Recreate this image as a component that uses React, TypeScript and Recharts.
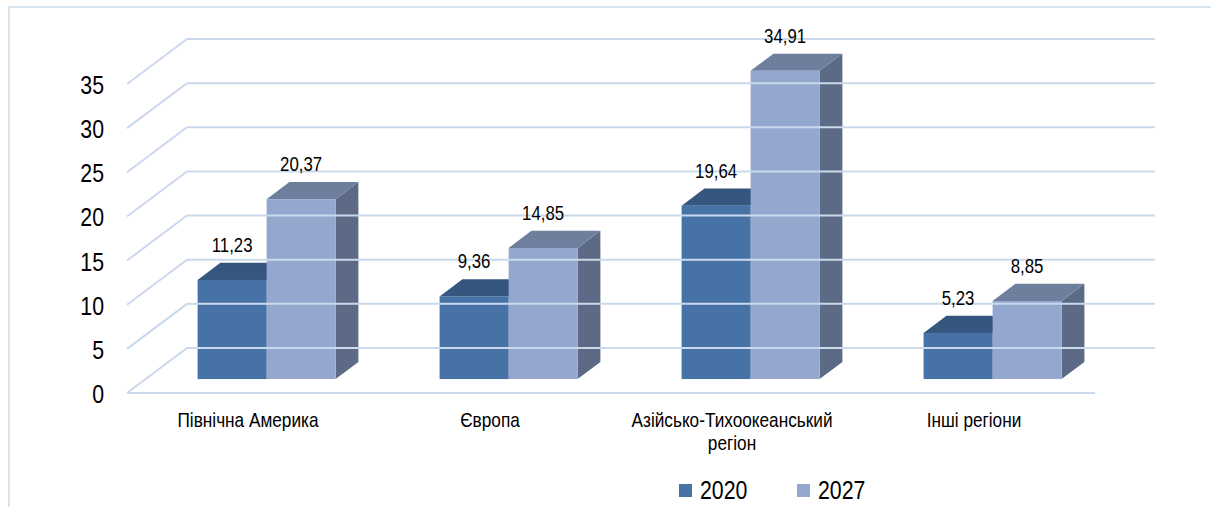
import React from 'react';
import { BarChart, Bar, XAxis, YAxis, ReferenceLine, LabelList } from 'recharts';

const categories = ['Північна Америка', 'Європа', 'Азійсько-Тихоокеанський регіон', 'Інші регіони'];
const values2020 = [11.23, 9.36, 19.64, 5.23];
const values2027 = [20.37, 14.85, 34.91, 8.85];
const yTicks = [0, 5, 10, 15, 20, 25, 30, 35];
const seriesNames = ['2020', '2027'];

const data = categories.map((c, i) => ({ region: c, y2020: values2020[i], y2027: values2027[i] }));

const FONT = "'Liberation Sans',Arial,sans-serif";
const NARROW = 0.82;
const W = 1211;
const H = 507;
const PLOT_LEFT = 127;
const PLOT_RIGHT = 1095;
const PLOT_TOP = 84;
const PLOT_BOTTOM = 393;
const DEPTH_X = 60;
const DEPTH_Y = 45;
const FRONT_F = 0.31;
const BACK_F = 0.69;
const GRID = '#CAD9EC';

const COLORS = {
  a: { front: '#4672A6', top: '#35567F', side: '#2E4B70' },
  b: { front: '#94A8CF', top: '#6E7F9D', side: '#5C6A85' },
};

const NText = ({ x, y, size, anchor, children }: any) => (
  <text
    transform={`translate(${x},${y}) scale(${NARROW},1)`}
    x={0}
    y={0}
    textAnchor={anchor || 'start'}
    fontSize={size}
    fontFamily={FONT}
    fill="#000"
  >
    {children}
  </text>
);

const makeBarShape = (c: { front: string; top: string; side: string }) => (props: any) => {
  const { x, y, width, height } = props;
  if (height == null || width == null) return null;
  const fx = x + DEPTH_X * FRONT_F;
  const fy = y - DEPTH_Y * FRONT_F;
  const dx = DEPTH_X * (BACK_F - FRONT_F);
  const dy = DEPTH_Y * (BACK_F - FRONT_F);
  return (
    <g>
      <polygon
        points={`${fx + width},${fy} ${fx + width + dx},${fy - dy} ${fx + width + dx},${fy + height - dy} ${fx + width},${fy + height}`}
        fill={c.side}
      />
      <polygon
        points={`${fx},${fy} ${fx + width},${fy} ${fx + width + dx},${fy - dy} ${fx + dx},${fy - dy}`}
        fill={c.top}
      />
      <rect x={fx} y={fy} width={width} height={height} fill={c.front} />
    </g>
  );
};

const gridShape = (isFloor: boolean) => (props: any) => {
  const { x1, y1, x2 } = props;
  return (
    <g>
      <polyline
        points={`${x1},${y1} ${x1 + DEPTH_X},${y1 - DEPTH_Y} ${x2 + DEPTH_X},${y1 - DEPTH_Y}`}
        fill="none"
        stroke={GRID}
        strokeWidth={2}
      />
      {isFloor && <line x1={x1} y1={y1} x2={x2} y2={y1} stroke={GRID} strokeWidth={2} />}
    </g>
  );
};

const fmt = (v: number) => v.toFixed(2).replace('.', ',');

const renderLabel = (props: any) => {
  const vb = props.viewBox || {};
  const x = props.x ?? vb.x;
  const y = props.y ?? vb.y;
  const width = props.width ?? vb.width;
  return (
    <NText x={x + width / 2 + DEPTH_X * FRONT_F} y={y - DEPTH_Y * FRONT_F - 28} size={20.5} anchor="middle">
      {fmt(Number(props.value))}
    </NText>
  );
};

const YTick = (props: any) => {
  const { y, payload } = props;
  return (
    <NText x={PLOT_LEFT - 23} y={y + 10} size={26} anchor="end">
      {payload.value}
    </NText>
  );
};

const splitLabel = (s: string): string[] => {
  if (s.length <= 24) return [s];
  const i = s.lastIndexOf(' ');
  return i > 0 ? [s.slice(0, i), s.slice(i + 1)] : [s];
};

const XTick = (props: any) => {
  const { x, payload } = props;
  const lines = splitLabel(String(payload.value));
  return (
    <NText x={x} y={PLOT_BOTTOM + 34} size={21} anchor="middle">
      {lines.map((l, i) => (
        <tspan key={i} x={0} dy={i === 0 ? 0 : 23}>
          {l}
        </tspan>
      ))}
    </NText>
  );
};

export default function App() {
  return (
    <div style={{ position: 'absolute', left: 0, top: 0, width: W, height: H, background: '#fff' }}>
      <div
        style={{
          position: 'absolute',
          left: 8,
          top: 6,
          width: W,
          height: H,
          borderLeft: '2px solid #DAE5F2',
          borderTop: '2px solid #DAE5F2',
        }}
      />
      <div style={{ position: 'absolute', left: 0, top: 0 }}>
        <BarChart
          width={W}
          height={H}
          data={data}
          margin={{ top: PLOT_TOP, right: W - PLOT_RIGHT, bottom: 0, left: 0 }}
          barSize={69}
          barGap={0}
        >
          <XAxis
            dataKey="region"
            axisLine={false}
            tickLine={false}
            height={H - PLOT_BOTTOM}
            tick={<XTick />}
            interval={0}
          />
          <YAxis
            domain={[0, 35]}
            ticks={yTicks}
            axisLine={false}
            tickLine={false}
            width={PLOT_LEFT}
            tick={<YTick />}
            interval={0}
          />
          {yTicks.map((t) => (
            <ReferenceLine key={t} y={t} shape={gridShape(t === 0)} />
          ))}
          <Bar dataKey="y2020" name={seriesNames[0]} fill={COLORS.a.front} shape={makeBarShape(COLORS.a)} isAnimationActive={false}>
            <LabelList dataKey="y2020" content={renderLabel} />
          </Bar>
          <Bar dataKey="y2027" name={seriesNames[1]} fill={COLORS.b.front} shape={makeBarShape(COLORS.b)} isAnimationActive={false}>
            <LabelList dataKey="y2027" content={renderLabel} />
          </Bar>
        </BarChart>
      </div>
      <svg style={{ position: 'absolute', left: 0, top: 0 }} width={W} height={H} pointerEvents="none">
        {seriesNames.map((n, i) => {
          const lx = i === 0 ? 679 : 797;
          return (
            <g key={n}>
              <rect x={lx} y={484} width={13} height={13} fill={i === 0 ? COLORS.a.front : COLORS.b.front} />
              <NText x={lx + 21} y={499} size={26}>
                {n}
              </NText>
            </g>
          );
        })}
      </svg>
    </div>
  );
}
